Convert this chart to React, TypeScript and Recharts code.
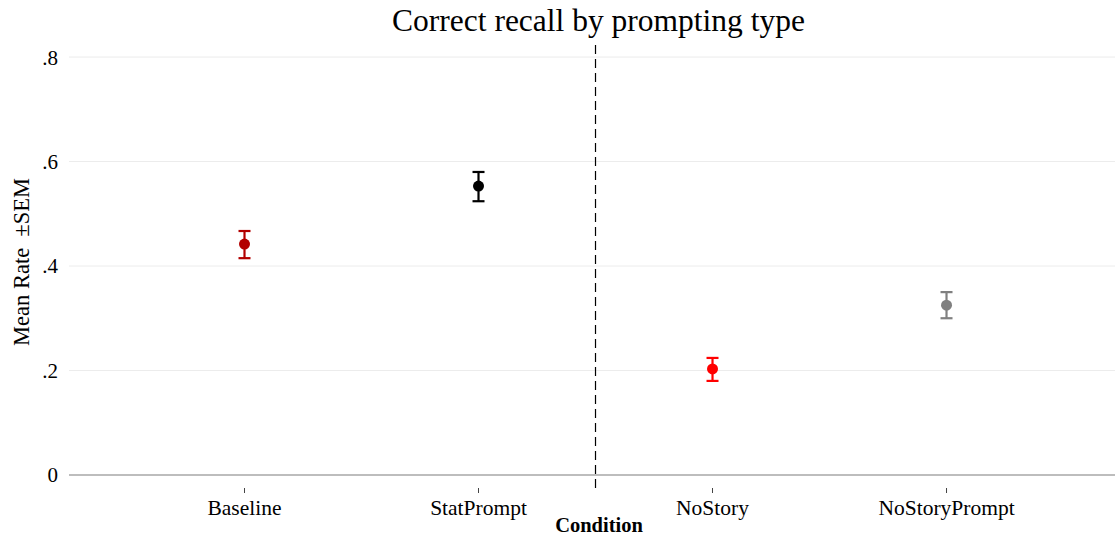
import React from 'react';
import {
  ComposedChart, Scatter, ErrorBar, XAxis, YAxis, ReferenceLine,
} from 'recharts';

const categories = ['Baseline', 'StatPrompt', 'NoStory', 'NoStoryPrompt'];
const means = [0.442, 0.553, 0.203, 0.325];
const semLow = [0.027, 0.029, 0.023, 0.025];
const semHigh = [0.025, 0.027, 0.021, 0.025];
const colors = ['#b20000', '#000000', '#ff0000', '#808080'];
const yTicks = [0, 0.2, 0.4, 0.6, 0.8];
const yTickLabels = ['0', '.2', '.4', '.6', '.8'];

const FONT = '"Liberation Serif", "DejaVu Serif", serif';

const series = categories.map((name, i) => ({
  name,
  color: colors[i],
  data: [{ x: i + 1, y: means[i], err: [semLow[i], semHigh[i]] }],
}));

const Dot = (props: any) => {
  const { cx, cy, fill } = props;
  return <circle cx={cx} cy={cy} r={5.5} fill={fill} />;
};

export default function App() {
  return (
    <div style={{ position: 'absolute', left: 0, top: 0, width: 1115, height: 538, background: '#fff', fontFamily: FONT }}>
      <div style={{ position: 'absolute', left: 0, top: 3, width: 1197, textAlign: 'center', fontSize: 31.5, color: '#000', fontFamily: FONT, zIndex: 1 }}>
        Correct recall by prompting type
      </div>
      <ComposedChart width={1115} height={538} margin={{ top: 44, right: 0, bottom: 0, left: 0 }}>
        {yTicks.filter((t) => t !== 0).map((t) => (
          <ReferenceLine key={t} y={t} stroke="#ececec" strokeWidth={1} />
        ))}
        <XAxis
          type="number"
          dataKey="x"
          domain={[0.25, 4.72]}
          ticks={[1, 2, 3, 4]}
          tickFormatter={(v: number) => categories[v - 1]}
          axisLine={false}
          tickLine={{ stroke: '#444', strokeWidth: 1 }}
          tickSize={5}
          tickMargin={7}
          height={50}
          allowDataOverflow
          tick={{ fill: '#000', fontSize: 21.5, fontFamily: FONT }}
          label={{
            content: () => (
              <text x={599} y={532} textAnchor="middle" fontSize={20.5} fontWeight="bold" fontFamily={FONT} fill="#000">
                Condition
              </text>
            ),
          }}
        />
        <YAxis
          type="number"
          dataKey="y"
          domain={[-0.025, 0.825]}
          ticks={yTicks}
          tickFormatter={(v: number) => yTickLabels[yTicks.indexOf(v)] ?? String(v)}
          axisLine={false}
          tickLine={false}
          tickSize={0}
          tickMargin={11}
          width={69}
          allowDataOverflow
          tick={{ fill: '#000', fontSize: 21, fontFamily: FONT }}
          label={{
            content: () => (
              <text x={29} y={262} textAnchor="middle" fontSize={22.5} fontFamily={FONT} fill="#000" transform="rotate(-90 29 262)" style={{ whiteSpace: 'pre' }}>
                {'Mean Rate  \u00B1SEM'}
              </text>
            ),
          }}
        />
        <ReferenceLine y={0} stroke="#bdbdbd" strokeWidth={2} />
        <ReferenceLine x={2.5} stroke="#000" strokeWidth={1.2} strokeDasharray="9 5" />
        {series.map((s) => (
          <Scatter key={s.name} name={s.name} data={s.data} fill={s.color} shape={Dot} isAnimationActive={false}>
            <ErrorBar dataKey="err" direction="y" width={6} stroke={s.color} strokeWidth={2.2} isAnimationActive={false} />
          </Scatter>
        ))}
      </ComposedChart>
    </div>
  );
}
